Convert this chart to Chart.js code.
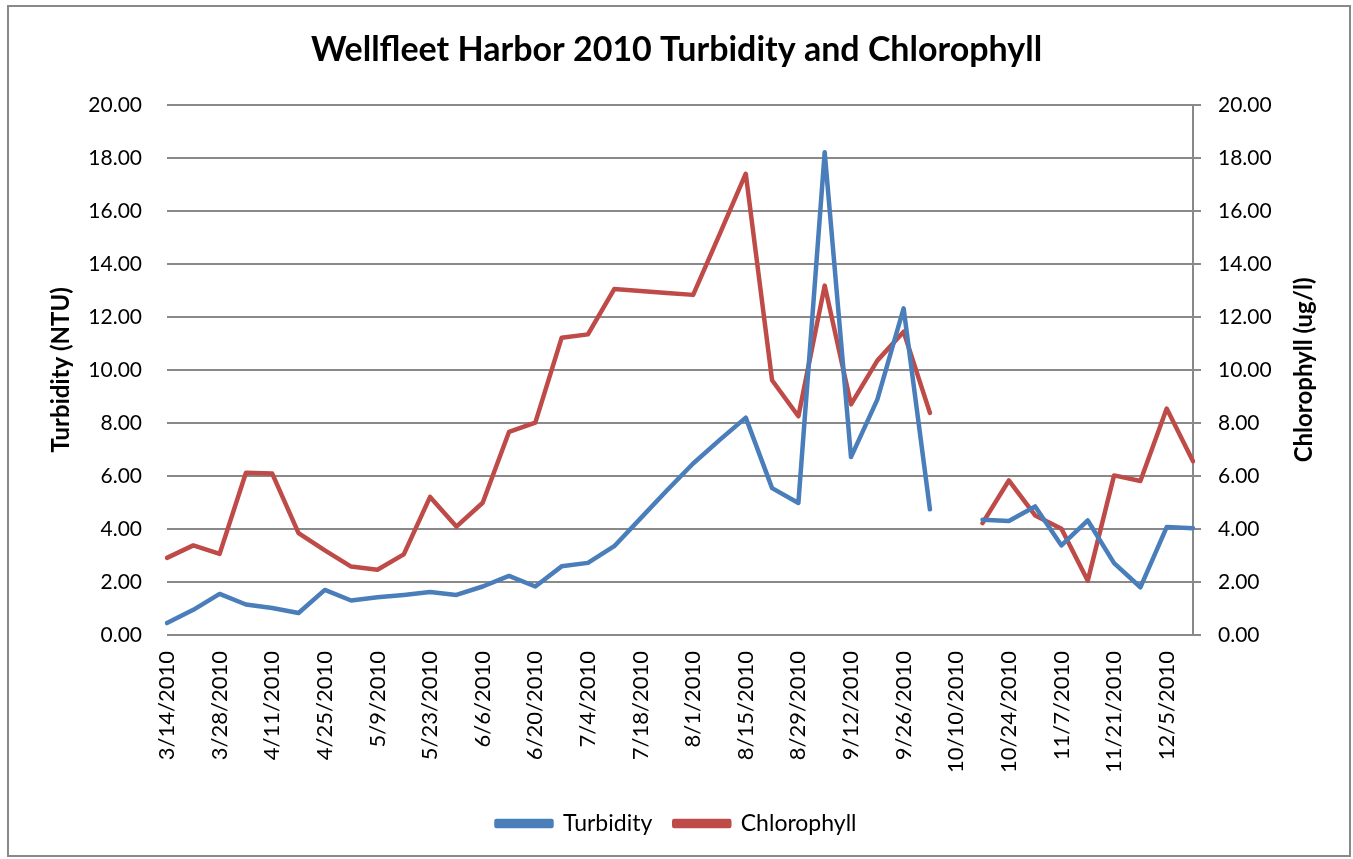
<!DOCTYPE html>
<html>
<head>
<meta charset="utf-8">
<title>Wellfleet Harbor 2010 Turbidity and Chlorophyll</title>
<script src="https://cdn.jsdelivr.net/npm/chart.js@4.4.1/dist/chart.umd.min.js"></script>
<style>
  body { margin: 0; background: #fff; }
  canvas { display: block; }
</style>
</head>
<body>
<canvas id="grafico" width="1353" height="859"></canvas>
<script>
// weekly samples, 3/14/2010 .. 12/12/2010 (10/10 missing)
var datas = ["3/14/2010", "3/21/2010", "3/28/2010", "4/4/2010", "4/11/2010", "4/18/2010",
    "4/25/2010", "5/2/2010", "5/9/2010", "5/16/2010", "5/23/2010", "5/30/2010",
    "6/6/2010", "6/13/2010", "6/20/2010", "6/27/2010", "7/4/2010", "7/11/2010",
    "7/18/2010", "7/25/2010", "8/1/2010", "8/8/2010", "8/15/2010", "8/22/2010",
    "8/29/2010", "9/5/2010", "9/12/2010", "9/19/2010", "9/26/2010", "10/3/2010",
    "10/10/2010", "10/17/2010", "10/24/2010", "10/31/2010", "11/7/2010", "11/14/2010",
    "11/21/2010", "11/28/2010", "12/5/2010", "12/12/2010"];

var turbidez = [0.45, 0.95, 1.55, 1.15, 1.02, 0.83, 1.70, 1.30, 1.42, 1.51,
    1.62, 1.51, 1.83, 2.23, 1.83, 2.59, 2.72, 3.35, 4.40, 5.45,
    6.47, 7.35, 8.20, 5.54, 4.98, 18.21, 6.71, 8.88, 12.32, 4.74,
    null, 4.35, 4.30, 4.85, 3.38, 4.32, 2.71, 1.80, 4.07, 4.03];

var clorofila = [2.91, 3.38, 3.06, 6.12, 6.09, 3.84, 3.19, 2.58, 2.46, 3.04,
    5.21, 4.09, 4.99, 7.66, 8.01, 11.21, 11.34, 13.05, 12.98, 12.90,
    12.83, 15.10, 17.40, 9.61, 8.25, 13.18, 8.70, 10.35, 11.44, 8.38,
    null, 4.22, 5.83, 4.51, 4.01, 2.05, 6.02, 5.81, 8.54, 6.55];

var eixoMin = 0, eixoMax = 20, passo = 2;
var tituloGrafico = "Wellfleet Harbor 2010 Turbidity and Chlorophyll";
var tituloEsq = "Turbidity (NTU)";
var tituloDir = "Chlorophyll (ug/l)";

var azul = '#4a7ebb';
var vermelho = '#be4b48';
var cinza = '#898989';
var fonte = 'Lato';

// moldura e titulos dos eixos (o da direita le de baixo para cima, como no Excel)
var extras = {
    id: 'extras',
    afterDraw: function (chart) {
        var ctx = chart.ctx;
        var a = chart.chartArea;
        ctx.save();
        ctx.strokeStyle = cinza;
        ctx.lineWidth = 2;
        ctx.strokeRect(8, 6, 1342, 850);
        ctx.font = 'bold 24px ' + fonte;
        ctx.fillStyle = '#000';
        ctx.textAlign = 'center';
        ctx.textBaseline = 'middle';
        var cy = (a.top + a.bottom) / 2;
        [[61, tituloEsq], [1304, tituloDir]].forEach(function (t) {
            ctx.save();
            ctx.translate(t[0], cy);
            ctx.rotate(-Math.PI / 2);
            ctx.fillText(t[1], 0, 0);
            ctx.restore();
        });
        ctx.restore();
    }
};

function fmt(v) { return Number(v).toFixed(2); }

let grafico = new Chart(document.getElementById('grafico'), {
    type: 'line',
    data: {
        labels: datas,
        datasets: [{
            label: 'Turbidity',
            data: turbidez,
            yAxisID: 'y',
            borderColor: azul,
            backgroundColor: azul,
            borderWidth: 4.5,
            pointRadius: 0,
            tension: 0,
            spanGaps: false,
            borderCapStyle: 'round',
            borderJoinStyle: 'round'
        }, {
            label: 'Chlorophyll',
            data: clorofila,
            yAxisID: 'y1',
            borderColor: vermelho,
            backgroundColor: vermelho,
            borderWidth: 4.5,
            pointRadius: 0,
            tension: 0,
            spanGaps: false,
            borderCapStyle: 'round',
            borderJoinStyle: 'round'
        }]
    },
    options: {
        responsive: false,
        animation: false,
        layout: { padding: { top: 10, left: 0, right: 0, bottom: 14 } },
        plugins: {
            title: {
                display: true,
                text: tituloGrafico,
                color: '#000',
                font: { family: fonte, size: 34, weight: 'bold', lineHeight: 1.2 },
                padding: { top: 20, bottom: 34 }
            },
            legend: {
                position: 'bottom',
                labels: {
                    color: '#000',
                    font: { family: fonte, size: 23 },
                    boxWidth: 55,
                    boxHeight: 5,
                    padding: 22
                }
            },
            tooltip: { enabled: false }
        },
        scales: {
            x: {
                type: 'category',
                offset: false,
                grid: { display: false, drawTicks: false },
                border: { display: false },
                ticks: {
                    autoSkip: false,
                    maxRotation: 90,
                    minRotation: 90,
                    padding: 16,
                    color: '#000',
                    font: { family: fonte, size: 22 },
                    callback: function (v, i) { return i % 2 === 0 ? this.getLabelForValue(v) : ''; }
                },
                afterFit: function (s) { s.height = 155; }
            },
            y: {
                position: 'left',
                min: eixoMin,
                max: eixoMax,
                grid: { color: cinza, lineWidth: 2, drawTicks: false },
                border: { display: false },
                ticks: {
                    stepSize: passo,
                    padding: 25,
                    color: '#000',
                    font: { family: fonte, size: 21 },
                    callback: fmt
                },
                afterFit: function (s) { s.width = 167; }
            },
            y1: {
                position: 'right',
                min: eixoMin,
                max: eixoMax,
                grid: { drawOnChartArea: false, color: cinza, lineWidth: 2, tickLength: 8 },
                border: { display: true, color: cinza, width: 2 },
                ticks: {
                    stepSize: passo,
                    padding: 17,
                    color: '#000',
                    font: { family: fonte, size: 21 },
                    callback: fmt
                },
                afterFit: function (s) { s.width = 160; }
            }
        }
    },
    plugins: [extras]
});
</script>
</body>
</html>
